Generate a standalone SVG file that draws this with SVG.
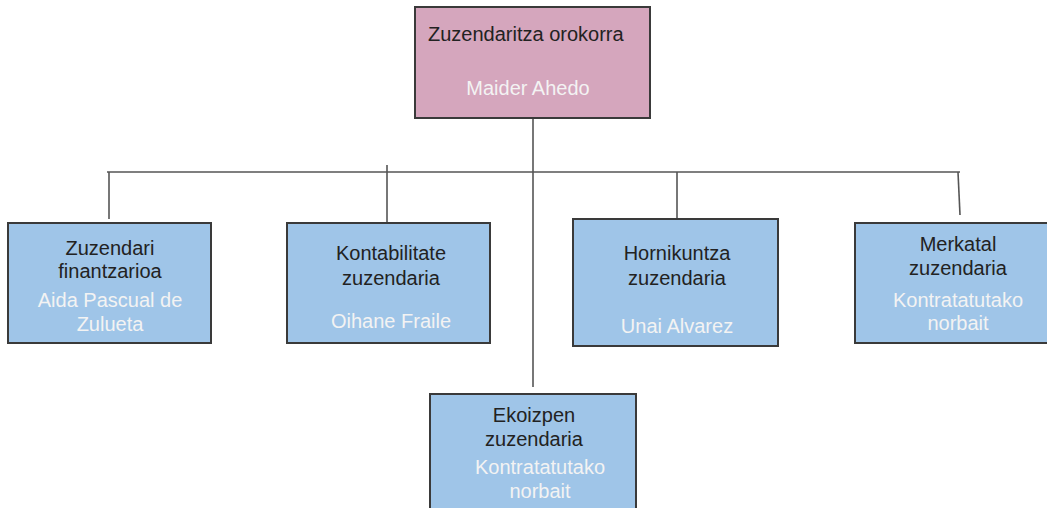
<svg xmlns="http://www.w3.org/2000/svg" width="1047" height="508" viewBox="0 0 1047 508">
<style>
.box{stroke:#3a3a3a;stroke-width:2}
.pink{fill:#d5a6bd}
.blue{fill:#9fc5e8}
text{font-family:"Liberation Sans",Arial,sans-serif;font-size:20px;text-anchor:middle}
.t{fill:#222}
.n{fill:#f3f3f3}
.con{stroke:#555;stroke-width:1.6;fill:none}
</style>
<rect width="1047" height="508" fill="#fff"/>
<g id="connectors">
<path class="con" d="M533 118 V387"/>
<path class="con" d="M107 172 H960"/>
<path class="con" d="M109 172 V219"/>
<path class="con" d="M387 165 V222"/>
<path class="con" d="M677 172 V219"/>
<path class="con" d="M958 172 L960 215"/>
</g>
<g id="n0">
<rect class="box pink" x="415" y="7" width="235" height="111"/>
<text class="t" x="428" y="41" style="text-anchor:start">Zuzendaritza orokorra</text>
<text class="n" x="528" y="95">Maider Ahedo</text>
</g>
<g id="n1">
<rect class="box blue" x="8" y="223" width="203" height="120"/>
<text class="t" x="110" y="255">Zuzendari</text>
<text class="t" x="110" y="278">finantzarioa</text>
<text class="n" x="110" y="307">Aida Pascual de</text>
<text class="n" x="110" y="331">Zulueta</text>
</g>
<g id="n2">
<rect class="box blue" x="287" y="223" width="203" height="120"/>
<text class="t" x="391" y="260">Kontabilitate</text>
<text class="t" x="391" y="285">zuzendaria</text>
<text class="n" x="391" y="328">Oihane Fraile</text>
</g>
<g id="n3">
<rect class="box blue" x="573" y="219" width="205" height="127"/>
<text class="t" x="677" y="260">Hornikuntza</text>
<text class="t" x="677" y="285">zuzendaria</text>
<text class="n" x="677" y="333">Unai Alvarez</text>
</g>
<g id="n4">
<rect class="box blue" x="855" y="223" width="200" height="120"/>
<text class="t" x="958" y="251">Merkatal</text>
<text class="t" x="958" y="275">zuzendaria</text>
<text class="n" x="958" y="307">Kontratatutako</text>
<text class="n" x="958" y="330">norbait</text>
</g>
<g id="n5">
<rect class="box blue" x="430" y="394" width="206" height="130"/>
<text class="t" x="534" y="422">Ekoizpen</text>
<text class="t" x="534" y="446">zuzendaria</text>
<text class="n" x="540" y="474">Kontratatutako</text>
<text class="n" x="540" y="498">norbait</text>
</g>
</svg>
